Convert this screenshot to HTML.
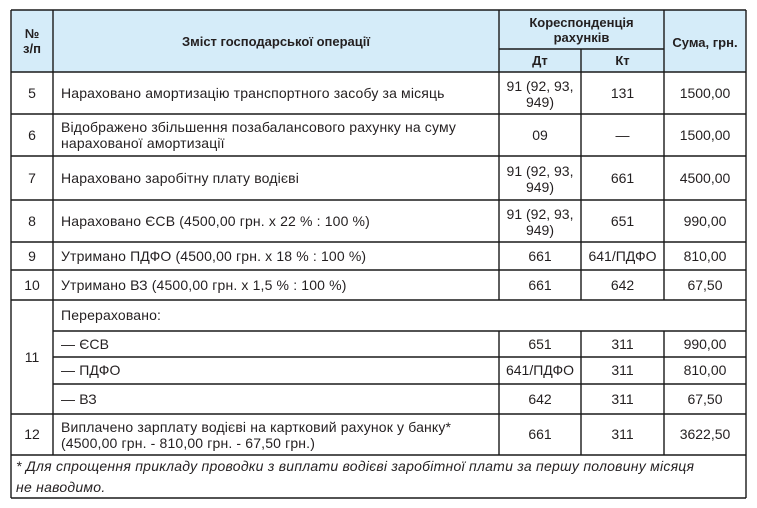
<!DOCTYPE html>
<html>
<head>
<meta charset="utf-8">
<style>
  html,body{margin:0;padding:0;background:#fff;}
  #wrap{position:relative;width:757px;height:508px;overflow:hidden;background:#fff;
    font-family:"Liberation Sans","DejaVu Sans",sans-serif;font-size:14px;color:#231f20;}
  .c{position:absolute;display:flex;align-items:center;justify-content:center;text-align:center;line-height:16.5px;box-sizing:border-box;white-space:nowrap;}
  .l{justify-content:flex-start;text-align:left;padding-left:8px;letter-spacing:0.15px;}
  .b{font-weight:bold;font-size:13px;line-height:15px;}
  .i{font-style:italic;}
  svg{position:absolute;left:0;top:0;}
</style>
</head>
<body>
<div id="wrap">
<svg width="757" height="508">
  <rect x="11" y="10" width="735" height="62" fill="#d5ecf9"/>
  <g stroke="#1a1a1a" stroke-width="1.4" fill="none">
    <line x1="11" y1="10" x2="746" y2="10"/>
    <line x1="499" y1="49" x2="664" y2="49"/>
    <line x1="11" y1="72" x2="746" y2="72"/>
    <line x1="11" y1="114" x2="746" y2="114"/>
    <line x1="11" y1="156" x2="746" y2="156"/>
    <line x1="11" y1="200" x2="746" y2="200"/>
    <line x1="11" y1="242" x2="746" y2="242"/>
    <line x1="11" y1="270" x2="746" y2="270"/>
    <line x1="11" y1="300" x2="746" y2="300"/>
    <line x1="53" y1="331" x2="746" y2="331"/>
    <line x1="53" y1="357" x2="746" y2="357"/>
    <line x1="53" y1="384" x2="746" y2="384"/>
    <line x1="11" y1="414" x2="746" y2="414"/>
    <line x1="11" y1="455" x2="746" y2="455"/>
    <line x1="11" y1="498" x2="746" y2="498"/>
    <line x1="11" y1="10" x2="11" y2="498"/>
    <line x1="746" y1="10" x2="746" y2="498"/>
    <line x1="53" y1="10" x2="53" y2="455"/>
    <line x1="499" y1="10" x2="499" y2="300"/>
    <line x1="499" y1="331" x2="499" y2="455"/>
    <line x1="581" y1="49" x2="581" y2="300"/>
    <line x1="581" y1="331" x2="581" y2="455"/>
    <line x1="664" y1="10" x2="664" y2="300"/>
    <line x1="664" y1="331" x2="664" y2="455"/>
  </g>
</svg>

<!-- header -->
<div class="c b" style="left:11px;top:10px;width:42px;height:62px;">№<br>з/п</div>
<div class="c b" style="left:53px;top:10px;width:446px;height:62px;">Зміст господарської операції</div>
<div class="c b" style="left:499px;top:10px;width:165px;height:40px;">Кореспонденція<br>рахунків</div>
<div class="c b" style="left:499px;top:49px;width:82px;height:23px;">Дт</div>
<div class="c b" style="left:581px;top:49px;width:83px;height:23px;">Кт</div>
<div class="c b" style="left:664px;top:10px;width:82px;height:64px;">Сума, грн.</div>

<!-- row 5 -->
<div class="c" style="left:11px;top:72px;width:42px;height:42px;">5</div>
<div class="c l" style="left:53px;top:72px;width:446px;height:42px;">Нараховано амортизацію транспортного засобу за місяць</div>
<div class="c" style="left:499px;top:72px;width:82px;height:44px;">91 (92, 93,<br>949)</div>
<div class="c" style="left:581px;top:72px;width:83px;height:42px;">131</div>
<div class="c" style="left:664px;top:72px;width:82px;height:42px;">1500,00</div>

<!-- row 6 -->
<div class="c" style="left:11px;top:114px;width:42px;height:42px;">6</div>
<div class="c l" style="left:53px;top:114px;width:446px;height:42px;">Відображено збільшення позабалансового рахунку на суму<br>нарахованої амортизації</div>
<div class="c" style="left:499px;top:114px;width:82px;height:42px;">09</div>
<div class="c" style="left:581px;top:114px;width:83px;height:42px;">—</div>
<div class="c" style="left:664px;top:114px;width:82px;height:42px;">1500,00</div>

<!-- row 7 -->
<div class="c" style="left:11px;top:156px;width:42px;height:44px;">7</div>
<div class="c l" style="left:53px;top:156px;width:446px;height:44px;">Нараховано заробітну плату водієві</div>
<div class="c" style="left:499px;top:156px;width:82px;height:46px;">91 (92, 93,<br>949)</div>
<div class="c" style="left:581px;top:156px;width:83px;height:44px;">661</div>
<div class="c" style="left:664px;top:156px;width:82px;height:44px;">4500,00</div>

<!-- row 8 -->
<div class="c" style="left:11px;top:200px;width:42px;height:42px;">8</div>
<div class="c l" style="left:53px;top:200px;width:446px;height:42px;">Нараховано ЄСВ (4500,00 грн. х 22 % : 100 %)</div>
<div class="c" style="left:499px;top:200px;width:82px;height:44px;">91 (92, 93,<br>949)</div>
<div class="c" style="left:581px;top:200px;width:83px;height:42px;">651</div>
<div class="c" style="left:664px;top:200px;width:82px;height:42px;">990,00</div>

<!-- row 9 -->
<div class="c" style="left:11px;top:242px;width:42px;height:28px;">9</div>
<div class="c l" style="left:53px;top:242px;width:446px;height:28px;">Утримано ПДФО (4500,00 грн. х 18 % : 100 %)</div>
<div class="c" style="left:499px;top:242px;width:82px;height:28px;">661</div>
<div class="c" style="left:581px;top:242px;width:83px;height:28px;">641/ПДФО</div>
<div class="c" style="left:664px;top:242px;width:82px;height:28px;">810,00</div>

<!-- row 10 -->
<div class="c" style="left:11px;top:270px;width:42px;height:30px;">10</div>
<div class="c l" style="left:53px;top:270px;width:446px;height:30px;">Утримано ВЗ (4500,00 грн. х 1,5 % : 100 %)</div>
<div class="c" style="left:499px;top:270px;width:82px;height:30px;">661</div>
<div class="c" style="left:581px;top:270px;width:83px;height:30px;">642</div>
<div class="c" style="left:664px;top:270px;width:82px;height:30px;">67,50</div>

<!-- row 11 -->
<div class="c" style="left:11px;top:300px;width:42px;height:114px;">11</div>
<div class="c l" style="left:53px;top:300px;width:693px;height:31px;">Перераховано:</div>

<div class="c l" style="left:53px;top:331px;width:446px;height:26px;">— ЄСВ</div>
<div class="c" style="left:499px;top:331px;width:82px;height:26px;">651</div>
<div class="c" style="left:581px;top:331px;width:83px;height:26px;">311</div>
<div class="c" style="left:664px;top:331px;width:82px;height:26px;">990,00</div>

<div class="c l" style="left:53px;top:357px;width:446px;height:27px;">— ПДФО</div>
<div class="c" style="left:499px;top:357px;width:82px;height:27px;">641/ПДФО</div>
<div class="c" style="left:581px;top:357px;width:83px;height:27px;">311</div>
<div class="c" style="left:664px;top:357px;width:82px;height:27px;">810,00</div>

<div class="c l" style="left:53px;top:384px;width:446px;height:30px;">— ВЗ</div>
<div class="c" style="left:499px;top:384px;width:82px;height:30px;">642</div>
<div class="c" style="left:581px;top:384px;width:83px;height:30px;">311</div>
<div class="c" style="left:664px;top:384px;width:82px;height:30px;">67,50</div>

<!-- row 12 -->
<div class="c" style="left:11px;top:414px;width:42px;height:41px;">12</div>
<div class="c l" style="left:53px;top:414px;width:446px;height:41px;line-height:16px;">Виплачено зарплату водієві на картковий рахунок у банку*<br>(4500,00 грн. - 810,00 грн. - 67,50 грн.)</div>
<div class="c" style="left:499px;top:414px;width:82px;height:41px;">661</div>
<div class="c" style="left:581px;top:414px;width:83px;height:41px;">311</div>
<div class="c" style="left:664px;top:414px;width:82px;height:41px;">3622,50</div>

<!-- footnote -->
<div class="c l i" style="left:11px;top:455px;width:735px;height:44px;padding-left:5px;line-height:21px;letter-spacing:0.25px;">* Для спрощення прикладу проводки з виплати водієві заробітної плати за першу половину місяця<br>не наводимо.</div>
</div>
</body>
</html>
